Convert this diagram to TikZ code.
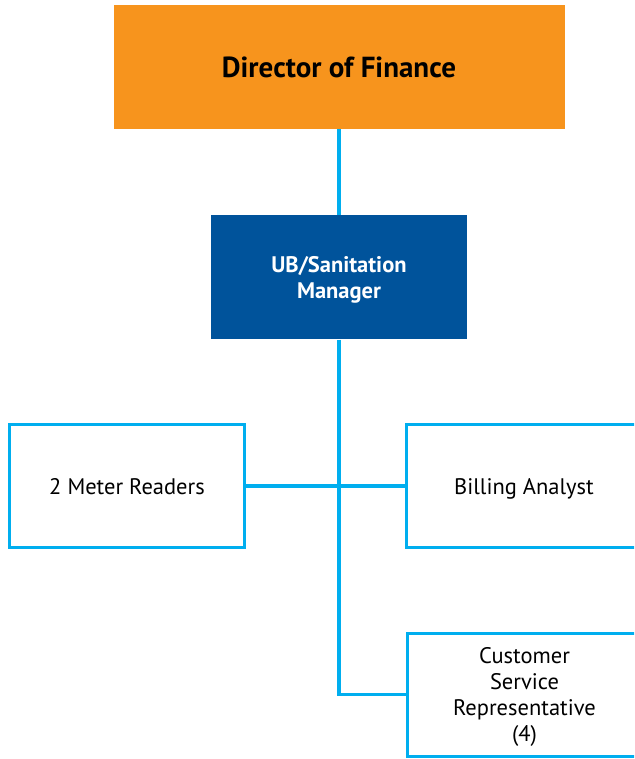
\documentclass[tikz,border=0pt]{standalone}
\usepackage{fontspec}
\setmainfont{PT Sans}
\usepackage{tikz}
\usetikzlibrary{positioning}

\definecolor{finorange}{HTML}{F7941D}
\definecolor{mgrblue}{HTML}{00539B}
\definecolor{linkcyan}{HTML}{00AEEF}

\begin{document}
\begin{tikzpicture}[x=1pt, y=1pt,
    every node/.style={align=center, inner sep=0pt, text depth=0pt, font=\fontsize{22.5}{26}\selectfont},
    boss/.style={fill=finorange, minimum width=451pt, minimum height=124pt, font=\fontsize{29}{32}\selectfont\bfseries},
    mgr/.style={fill=mgrblue, text=white, minimum width=256pt, minimum height=124pt, font=\fontsize{22.5}{26}\selectfont\bfseries},
    staff/.style={draw=linkcyan, line width=3pt, fill=white, minimum width=235pt, minimum height=123pt},
    link/.style={draw=linkcyan, line width=3.5pt}]
        \useasboundingbox (0,0) rectangle (634,-759);
        \clip (0,0) rectangle (634,-759);
        % top of the chart
        \node[boss] (dir) at (339,-67) {Director of Finance};
        \node[mgr, below=86pt of dir.south, anchor=north] (ubm) {UB/Sanitation\\Manager};
        % staff boxes
        \node[staff] (mtr) at (127,-486) {2 Meter Readers};
        \node[staff] (bill) at (524,-486) {Billing Analyst};
        \node[staff] (csr) at (524.5,-694.5) {Customer\\Service\\Representative\\(4)};
        % connectors
        \draw[link] (dir.south) -- (ubm.north);
        \draw[link] (ubm.south) -- (ubm.south |- csr.west) -- (csr.west);
        \draw[link] (mtr.east) -- (bill.west);
\end{tikzpicture}
\end{document}
